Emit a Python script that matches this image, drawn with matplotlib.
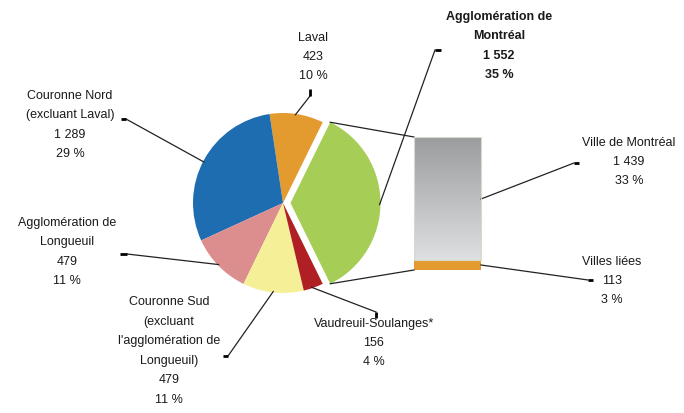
import numpy as np
import matplotlib.pyplot as plt
from matplotlib.colors import LinearSegmentedColormap

plt.rcParams['font.family'] = ['Liberation Sans', 'DejaVu Sans']

# Data
regions = ["Agglomération de\nMontréal", "Laval", "Couronne Nord\n(excluant Laval)",
           "Agglomération de\nLongueuil",
           "Couronne Sud\n(excluant\nl'agglomération de\nLongueuil)",
           "Vaudreuil-Soulanges*"]
values = [1552, 423, 1289, 479, 479, 156]
pcts = [35, 10, 29, 11, 11, 4]
colors = ["#A6CE57", "#E39A2F", "#1D6DB0", "#DC8D8D", "#F5F098", "#B01F24"]

sub_names = ["Ville de Montréal", "Villes liées"]
sub_values = [1439, 113]
sub_pcts = [33, 3]


def fmt(v):
    return f"{v:,}".replace(",", " ")


W, H = 684, 413
fig = plt.figure(figsize=(W / 100, H / 100), dpi=100)
ax = fig.add_axes([0, 0, 1, 1])


def P(x, y):  # pixel position (y down) -> data coords (y up)
    return x, H - y


# Pie
total = sum(values)
start = -values[0] / total * 360 / 2
cx, cy = P(283, 203)
wedges, _ = ax.pie(values, colors=colors, startangle=start, counterclock=True,
                   explode=[7.5, 0, 0, 0, 0, 0], center=(cx, cy), radius=90,
                   wedgeprops=dict(linewidth=0))

# Stacked bar for the agglomeration breakdown
bar_x, bar_w = 447.5, 67
bar_bottom = H - 270
scale = 133 / values[0]
liees = ax.bar(bar_x, sub_values[1] * scale, width=bar_w, bottom=bar_bottom,
               color="#E39A2F", linewidth=0)[0]
ville = ax.bar(bar_x, sub_values[0] * scale, width=bar_w,
               bottom=bar_bottom + sub_values[1] * scale,
               color="none", edgecolor="#d3dccb", linewidth=0.8, zorder=3)[0]
grad = LinearSegmentedColormap.from_list("g", ["#DEDFE0", "#9A9C9E"])
x0, y0 = ville.get_x(), ville.get_y()
img = ax.imshow(np.linspace(0, 1, 100).reshape(-1, 1), cmap=grad, aspect="auto",
                origin="lower", extent=(x0, x0 + ville.get_width(), y0, y0 + ville.get_height()),
                zorder=2)
img.set_clip_path(ville)

# Lines from the exploded slice to the bar
g = wedges[0]
gx, gy = g.center
for th, corner in [(g.theta2, (x0, y0 + ville.get_height())), (g.theta1, (x0, bar_bottom))]:
    px = gx + g.r * np.cos(np.radians(th))
    py = gy + g.r * np.sin(np.radians(th))
    ax.plot([px, corner[0]], [py, corner[1]], color="#222222", lw=0.9)


def wedge_point(w, ang, rr=1.0):
    wx, wy = w.center
    return wx + w.r * rr * np.cos(np.radians(ang)), wy + w.r * rr * np.sin(np.radians(ang))


# Labels: text position, leader start, stub direction, anchor angle on the slice
label_pos = [(499, 46), (313, 57), (70, 125), (67, 252), (169, 351), (374, 343)]
leader_start = [(435, 50), (310, 96), (126, 119), (127, 254), (228, 356), (376, 312)]
stubs = [(6, 0), (0, -7), (-5, 0), (-7, 0), (-5, 0), (0, 6)]
anchor_ang = [-1, 82, 152.6, 223.7, 263.7, 288.8]

for i, w in enumerate(wedges):
    tx, ty = P(*label_pos[i])
    txt = f"{regions[i]}\n{fmt(values[i])}\n{pcts[i]} %"
    ax.text(tx, ty, txt, ha="center", va="center", fontsize=9, linespacing=1.83,
            fontweight="bold" if i == 0 else "normal", color="#1a1a1a")
    sx, sy = P(*leader_start[i])
    ex, ey = wedge_point(w, anchor_ang[i], 0.99)
    ax.plot([sx, ex], [sy, ey], color="#222222", lw=0.9)
    ax.plot([sx, sx + stubs[i][0]], [sy, sy - stubs[i][1]], color="#000000", lw=2.0,
            solid_capstyle="butt")

# Labels for the bar
bar_labels = [(629, 162), (612, 281)]
bar_starts = [(574, 163), (588, 280)]
bar_ends = [(x0 + bar_w, H - 199), (x0 + bar_w, H - 265)]
for i in range(2):
    tx, ty = P(*bar_labels[i])
    ax.text(tx, ty, f"{sub_names[i]}\n{fmt(sub_values[i])}\n{sub_pcts[i]} %",
            ha="center", va="center", fontsize=9, linespacing=1.83, color="#1a1a1a")
    sx, sy = P(*bar_starts[i])
    ax.plot([sx, bar_ends[i][0]], [sy, bar_ends[i][1]], color="#222222", lw=0.9)
    ax.plot([sx, sx + 5], [sy, sy], color="#000000", lw=2.0, solid_capstyle="butt")

ax.set_xlim(0, W)
ax.set_ylim(0, H)
ax.set_aspect("auto")
ax.axis("off")

fig.savefig("out.png", dpi=100)
